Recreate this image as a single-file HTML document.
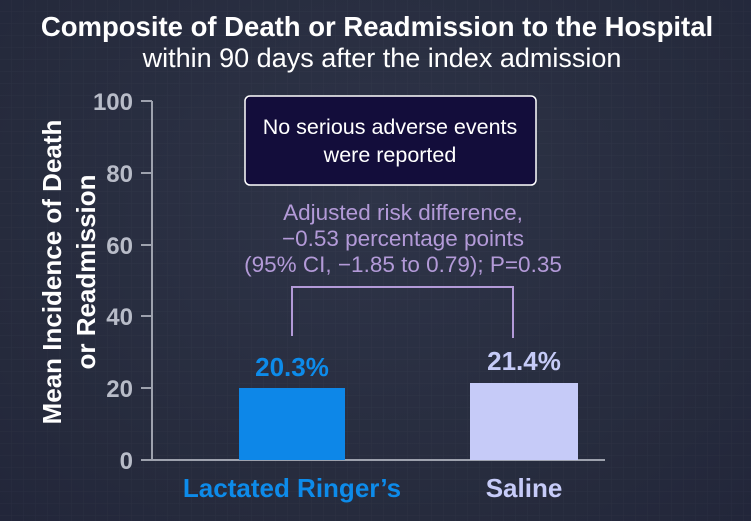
<!DOCTYPE html>
<html><head><style>
body{margin:0;width:751px;height:521px;overflow:hidden;background:radial-gradient(ellipse at 50% 40%,#2e3448 0%,#262b3d 70%,#22263a 100%);font-family:"Liberation Sans",sans-serif;}
</style></head><body>
<svg width="751" height="521" xmlns="http://www.w3.org/2000/svg" style="position:absolute;left:0;top:0">
<defs><pattern id="g" width="12" height="12" patternUnits="userSpaceOnUse"><path d="M12 0V12H0" fill="none" stroke="#ffffff" stroke-opacity="0.03"/></pattern></defs>
<rect width="751" height="521" fill="url(#g)"/>
<g font-family="Liberation Sans, sans-serif" font-weight="bold">
<text x="377" y="36" text-anchor="middle" fill="#fff" font-size="27.5">Composite of Death or Readmission to the Hospital</text>
<text x="382" y="67" text-anchor="middle" fill="#fff" font-size="27" font-weight="normal">within 90 days after the index admission</text>
<g fill="#b8bcc8" font-size="24" text-anchor="end">
<text x="133" y="110">100</text><text x="133" y="182">80</text><text x="133" y="254">60</text><text x="133" y="325">40</text><text x="133" y="397">20</text><text x="133" y="469">0</text>
</g>
<text transform="translate(61,272) rotate(-90)" text-anchor="middle" fill="#fff" font-size="26">Mean Incidence of Death</text>
<text transform="translate(95,272) rotate(-90)" text-anchor="middle" fill="#fff" font-size="26">or Readmission</text>
<text x="292" y="497" text-anchor="middle" fill="#0d8bea" font-size="26">Lactated Ringer’s</text>
<text x="524" y="497" text-anchor="middle" fill="#c6cbf8" font-size="26">Saline</text>
<text x="292" y="376" text-anchor="middle" fill="#0d8bea" font-size="26">20.3%</text>
<text x="524" y="370" text-anchor="middle" fill="#c6cbf8" font-size="26">21.4%</text>
</g>
<g stroke="#9ea2ae" stroke-width="2" fill="none">
<path d="M152 101V460H605"/>
<path d="M141 101H152M141 173H152M141 245H152M141 316H152M141 388H152M141 460H152"/>
</g>
<rect x="239" y="388" width="106" height="72" fill="#0d87e8"/>
<rect x="470" y="383" width="108" height="77" fill="#c6cbf8"/>
<rect x="245" y="96" width="291" height="89" rx="5" fill="#130d3b" stroke="#fff" stroke-width="1.5"/>
<text x="390" y="134" text-anchor="middle" fill="#fff" font-size="21.5" font-family="Liberation Sans, sans-serif">No serious adverse events</text>
<text x="390" y="162" text-anchor="middle" fill="#fff" font-size="21.5" font-family="Liberation Sans, sans-serif">were reported</text>
<g fill="#b39ad8" font-size="22.5" text-anchor="middle" font-family="Liberation Sans, sans-serif">
<text x="403" y="220">Adjusted risk difference,</text>
<text x="403" y="246">−0.53 percentage points</text>
<text x="403" y="272">(95% CI, −1.85 to 0.79); P=0.35</text>
</g>
<path d="M292 336V287H513V338" stroke="#b39ad8" stroke-width="2" fill="none"/>
</svg>
</body></html>
